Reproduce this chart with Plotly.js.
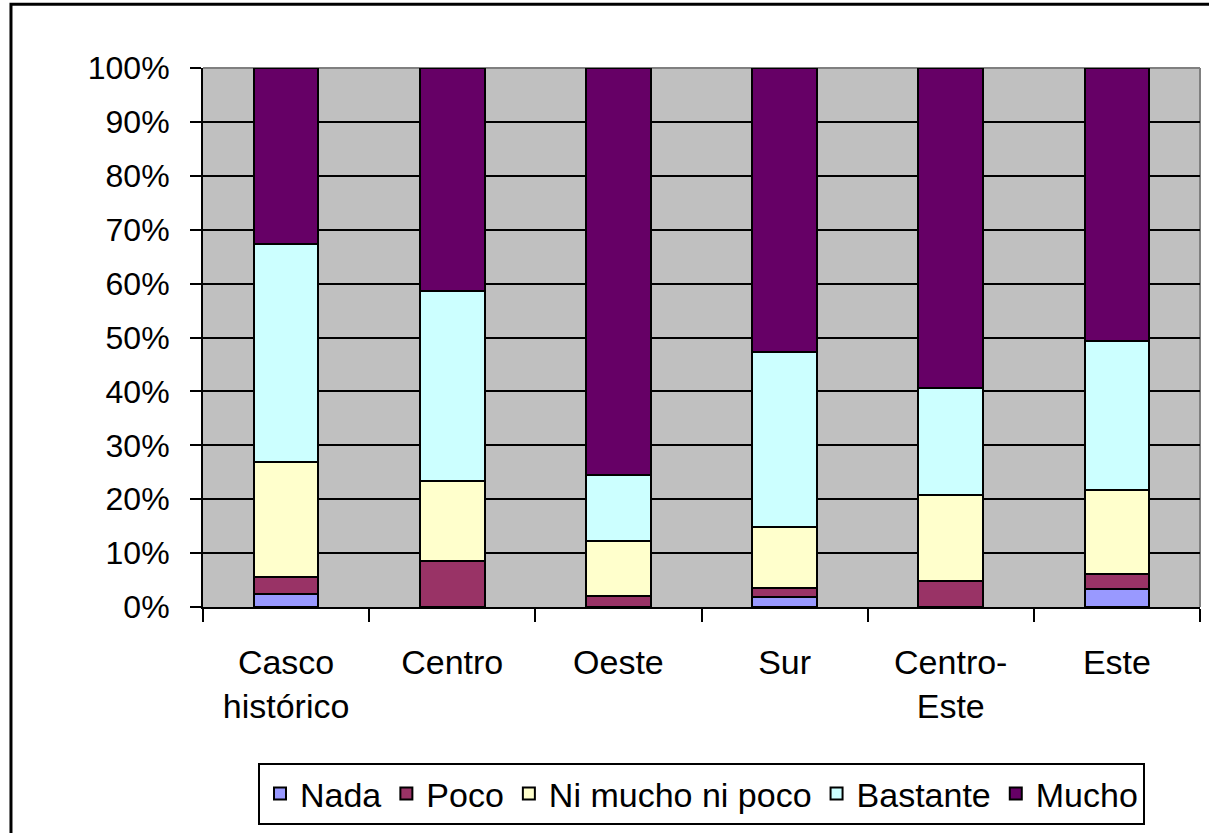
<!DOCTYPE html>
<html>
<head>
<meta charset="utf-8">
<script src="https://cdn.plot.ly/plotly-3.0.1.min.js"></script>
<style>
  html, body { margin: 0; padding: 0; background: #fff; }
  #chart { width: 1209px; height: 833px; }
</style>
</head>
<body>
<div id="chart"></div>
<script>
// districts on the x axis
const zonas = ['Casco<br>histórico', 'Centro', 'Oeste', 'Sur', 'Centro-<br>Este', 'Este'];

// share of answers per district (%)
const nada     = [2.4, 0.0, 0.0, 1.9, 0.0, 3.3];
const poco     = [3.2, 8.6, 2.0, 1.6, 4.9, 2.8];
const niMucho  = [21.3, 14.8, 10.2, 11.3, 15.9, 15.7];
const bastante = [40.4, 35.2, 12.2, 32.5, 19.8, 27.5];
const mucho    = [32.7, 41.4, 75.6, 52.7, 59.4, 50.7];

const series = [
    { name: 'Nada', y: nada, color: '#9999FF' },
    { name: 'Poco', y: poco, color: '#993366' },
    { name: 'Ni mucho ni poco', y: niMucho, color: '#FFFFCC' },
    { name: 'Bastante', y: bastante, color: '#CCFFFF' },
    { name: 'Mucho', y: mucho, color: '#660066' },
];

const font = { family: 'Liberation Sans, Arial, sans-serif', color: '#000' };

const data = series.map((s) => ({
    type: 'bar',
    name: s.name,
    x: zonas,
    y: s.y,
    marker: { color: s.color, line: { color: '#000', width: 2 } },
    hovertemplate: '%{x}: %{y:.1f}%<extra>' + s.name + '</extra>',
}));

const layout = {
    width: 1209,
    height: 833,
    margin: { l: 203, r: 9, t: 68, b: 225 },
    paper_bgcolor: '#fff',
    plot_bgcolor: '#C0C0C0',
    font: { ...font, size: 33 },
    barmode: 'stack',
    barnorm: 'percent',
    bargap: 0.61,
    showlegend: true,
    legend: {
        orientation: 'h',
        x: 0.5, xanchor: 'center',
        y: -0.287, yanchor: 'top',
        bgcolor: '#fff',
        bordercolor: '#000',
        borderwidth: 2,
        font: { ...font, size: 34 },
        traceorder: 'normal',
        itemwidth: 30,
    },
    xaxis: {
        type: 'category',
        tickson: 'boundaries',
        ticks: 'outside',
        ticklen: 13,
        tickwidth: 2,
        tickcolor: '#000',
        showline: true,
        linecolor: '#000',
        linewidth: 2,
        showgrid: false,
        ticklabelstandoff: 24,
        tickfont: { ...font, size: 34 },
    },
    yaxis: {
        range: [0, 100],
        dtick: 10,
        ticksuffix: '%',
        ticks: 'outside',
        ticklen: 11,
        tickwidth: 2,
        tickcolor: '#000',
        showline: true,
        linecolor: '#000',
        linewidth: 2,
        gridcolor: '#000',
        gridwidth: 2,
        zeroline: false,
        ticklabelstandoff: 14,
        tickfont: { ...font, size: 32 },
    },
    shapes: [
        // grey top and right edges of the plot area
        { type: 'line', xref: 'paper', yref: 'paper', x0: 0, x1: 1, y0: 1, y1: 1,
          line: { color: '#808080', width: 2 }, layer: 'between' },
        { type: 'line', xref: 'paper', yref: 'paper', x0: 1, x1: 1, y0: 0, y1: 1,
          line: { color: '#808080', width: 2 }, layer: 'between' },
        // outer chart frame
        { type: 'rect', xref: 'paper', yref: 'paper',
          x0: -0.1926, x1: 1.02, y0: -0.5, y1: 1.1185,
          line: { color: '#000', width: 3 }, layer: 'below' },
    ],
};

Plotly.newPlot('chart', data, layout, { displayModeBar: false, staticPlot: true });
</script>
</body>
</html>
